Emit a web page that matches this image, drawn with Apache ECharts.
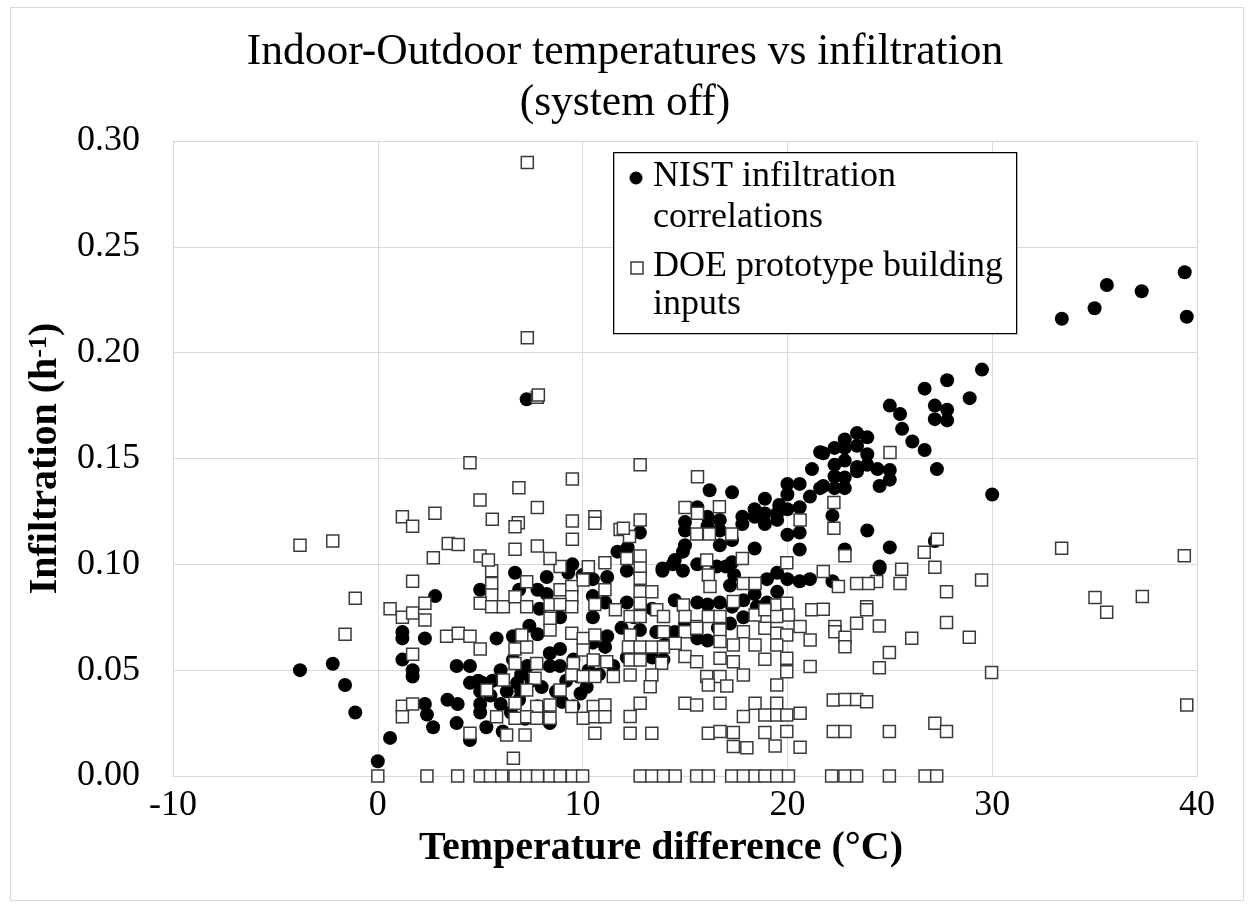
<!DOCTYPE html>
<html>
<head>
<meta charset="utf-8">
<script src="https://cdn.jsdelivr.net/npm/echarts@6/dist/echarts.min.js"></script>
<style>html,body{margin:0;padding:0;background:#fff}#c{width:1250px;height:905px}</style>
</head>
<body>
<div id="c"></div>
<script>
// Text
const chartTitle = 'Indoor-Outdoor temperatures vs infiltration\n(system off)';
const xAxisTitle = 'Temperature difference (°C)';
const seriesNames = ['NIST infiltration correlations', 'DOE prototype building inputs'];
const xTicks = [-10, 0, 10, 20, 30, 40];
const yTicks = [0, 0.05, 0.10, 0.15, 0.20, 0.25, 0.30];

// NIST infiltration correlations [temperature difference, infiltration]
const nistPoints = [
[-3.8,0.050],[-2.2,0.053],[-1.6,0.043],[-1.1,0.030],[0.6,0.018],[0.0,0.007],
[1.2,0.068],[1.2,0.065],[1.2,0.055],[1.7,0.050],[1.7,0.047],
[2.8,0.085],[6.7,0.096],[5.0,0.088],[2.3,0.065],[5.8,0.065],[6.6,0.066],[7.4,0.071],[7.8,0.067],
[3.85,0.052],[4.5,0.052],[4.5,0.044],[5.1,0.044],[5.6,0.045],[3.4,0.036],[3.9,0.034],[2.3,0.034],
[2.4,0.029],[2.7,0.023],[3.85,0.025],[4.5,0.017],[5.0,0.034],[5.0,0.030],[5.3,0.023],[6.1,0.021],
[6.0,0.034],[6.8,0.044],[6.9,0.036],[7.3,0.052],[8.4,0.058],[8.4,0.052],[7.8,0.033],[8.4,0.025],
[8.9,0.052],[9.55,0.055],[9.9,0.039],[9.55,0.033],[10.5,0.063],[11.1,0.061],[11.2,0.094],[10.5,0.093],
[9.5,0.100],[8.25,0.094],[8.25,0.086],[7.8,0.088],[6.9,0.088],[7.9,0.079],[8.9,0.075],[10.5,0.085],
[11.1,0.082],[10.5,0.075],[11.2,0.066],[10.2,0.042],[8.9,0.060],
[5.5,0.038],[6.3,0.040],[7.0,0.040],[7.5,0.045],[8.0,0.042],[8.7,0.040],[9.2,0.045],[9.8,0.047],
[10.3,0.050],[10.8,0.048],[11.5,0.052],[6.5,0.030],[7.2,0.027],[8.0,0.030],[9.0,0.035],[5.0,0.040],
[4.9,0.045],[6.0,0.050],[6.6,0.055],[7.0,0.048],[9.3,0.096],[10.0,0.095],
[12.16,0.097],[12.8,0.096],[13.9,0.097],[14.4,0.100],[14.9,0.097],[15.6,0.100],[17.0,0.099],[17.4,0.095],
[17.2,0.090],[19.0,0.093],[19.5,0.096],[20.0,0.093],[20.6,0.092],[21.1,0.093],[19.5,0.087],[18.4,0.086],
[19.0,0.082],[17.85,0.083],[12.16,0.082],[13.4,0.079],[14.5,0.083],[15.6,0.082],[16.1,0.081],[16.7,0.082],
[17.3,0.080],[17.85,0.075],[17.2,0.072],[12.8,0.069],[13.6,0.068],[14.5,0.068],[15.6,0.065],[16.1,0.064],
[13.4,0.056],[12.16,0.056],[13.95,0.055],[18.5,0.080],[15.0,0.072],[16.6,0.070],[14.0,0.062],[12.5,0.075],
[11.9,0.070],[24.5,0.098],[22.2,0.092],
[16.2,0.135],[17.3,0.134],[21.6,0.153],[21.2,0.145],[21.6,0.136],[20.6,0.138],[20.0,0.138],[21.1,0.132],
[20.0,0.133],[18.9,0.131],[19.6,0.128],[20.6,0.127],[20.0,0.126],[19.5,0.124],[18.4,0.126],[18.4,0.1225],
[17.8,0.1225],[17.8,0.119],[18.9,0.124],[18.9,0.119],[19.5,0.121],[15.6,0.127],[16.1,0.1225],[16.7,0.121],
[15.0,0.120],[15.0,0.116],[16.1,0.118],[16.7,0.116],[17.3,0.1115],[16.7,0.109],[15.0,0.109],[14.9,0.106],
[14.5,0.102],[13.9,0.098],[12.8,0.115],[12.2,0.108],[20.0,0.114],[20.6,0.115],[20.6,0.107],[18.4,0.1075],
[17.3,0.101],[16.55,0.099],[11.7,0.106],[7.27,0.178],
[29.5,0.192],[27.8,0.187],[26.7,0.183],[28.9,0.1785],[27.2,0.175],[27.8,0.173],[27.2,0.1686],[27.8,0.168],
[25.0,0.175],[25.5,0.171],[25.6,0.164],[26.1,0.158],[26.7,0.154],[27.3,0.145],[30.0,0.133],[23.4,0.162],
[23.9,0.160],[22.8,0.159],[22.3,0.155],[21.75,0.1525],[22.8,0.155],[23.4,0.156],[23.9,0.152],[22.8,0.149],
[22.3,0.147],[23.4,0.146],[23.9,0.147],[24.4,0.145],[25.0,0.1446],[25.0,0.140],[24.5,0.137],[23.4,0.144],
[22.3,0.1415],[22.8,0.141],[22.8,0.136],[22.3,0.136],[21.75,0.137],[22.2,0.123],[23.9,0.116],[25.0,0.108],
[27.2,0.111],[22.8,0.107],[24.5,0.099],
[33.4,0.216],[35.0,0.221],[35.6,0.232],[37.3,0.229],[39.4,0.238],[39.5,0.217]
];

// DOE prototype building inputs [temperature difference, infiltration]
const doePoints = [
[0,0],[-1.1,0.084],[-1.6,0.067],[-3.8,0.109],[-2.2,0.111],[1.2,0.1225],[1.7,0.118],[1.7,0.092],
[0.6,0.079],[1.2,0.075],[1.7,0.077],[1.7,0.0575],[1.2,0.033],[1.2,0.028],[1.7,0.034],
[5.56,0.097],[5.56,0.091],[5.56,0.0855],[5.0,0.0816],[5.56,0.080],[6.13,0.080],[6.7,0.0847],[7.27,0.0918],
[7.27,0.080],[8.9,0.099],[8.9,0.088],[9.47,0.0895],[9.47,0.0847],[10.03,0.0926],[11.09,0.088],[8.41,0.081],
[8.9,0.081],[9.47,0.080],[10.6,0.081],[11.6,0.0785],[2.3,0.0816],[2.3,0.0737],[3.36,0.066],[3.93,0.0674],
[4.5,0.066],[5.0,0.060],[6.7,0.060],[7.27,0.061],[7.03,0.0666],[8.41,0.069],[8.41,0.0745],[9.47,0.0674],
[10.03,0.065],[10.6,0.0666],[10.03,0.0595],[6.7,0.0532],[7.76,0.0532],[9.55,0.0532],[10.52,0.0548],[11.18,0.054],
[6.13,0.0454],[7.68,0.0462],[5.32,0.0406],[7.27,0.0406],[8.9,0.0406],[9.47,0.0477],[10.03,0.047],[10.6,0.047],
[11.5,0.047],[6.7,0.0344],[7.76,0.0328],[8.41,0.0336],[9.47,0.0328],[10.52,0.0328],[11.09,0.0336],[5.8,0.028],
[6.7,0.0273],[7.27,0.028],[7.76,0.0273],[8.41,0.0273],[10.03,0.0273],[10.6,0.028],[11.09,0.028],[4.5,0.0202],
[6.29,0.0194],[7.19,0.0194],[10.6,0.0202],[6.62,0.0084],
[2.4,0],[3.9,0],[5.0,0],[5.5,0],[6.05,0],[6.7,0],[7.27,0],[7.8,0],[8.4,0],[8.9,0],[9.5,0],[10.0,0],
[12.81,0.099],[12.81,0.0934],[12.81,0.087],[13.38,0.087],[12.81,0.0816],[12.32,0.0753],[12.81,0.0753],
[13.62,0.0785],[13.95,0.0753],[14.92,0.0808],[15.0,0.0753],[15.57,0.0706],[16.14,0.0753],[16.71,0.0753],
[16.14,0.095],[16.22,0.0895],[17.85,0.091],[18.42,0.091],[17.36,0.0824],[19.48,0.0808],[19.97,0.0816],
[18.42,0.0761],[18.9,0.0785],[20.05,0.0761],[19.48,0.0753],[21.19,0.0785],[13.95,0.0682],[15.0,0.0682],
[15.57,0.0698],[16.71,0.069],[17.85,0.0682],[18.9,0.0698],[19.48,0.0674],[19.97,0.0666],[20.62,0.0706],
[21.11,0.0643],[12.32,0.0666],[12.24,0.061],[12.81,0.061],[13.38,0.061],[13.95,0.061],[14.52,0.0627],
[16.71,0.0635],[17.36,0.0619],[18.42,0.0619],[19.48,0.0619],[12.32,0.0548],[12.81,0.0548],[13.86,0.0533],
[15.0,0.0564],[15.57,0.054],[16.71,0.0556],[17.36,0.054],[18.9,0.0551],[19.97,0.0556],[21.11,0.0517],
[12.32,0.0477],[13.38,0.0477],[13.3,0.0422],[16.06,0.047],[16.71,0.047],[17.85,0.0477],[19.97,0.0493],
[16.14,0.043],[17.04,0.0425],[19.48,0.043],[12.81,0.0344],[15.0,0.0344],[15.57,0.0336],[16.71,0.0344],
[18.42,0.0344],[19.48,0.0344],[12.32,0.0281],[17.85,0.0281],[18.9,0.0288],[19.48,0.0288],[19.97,0.0288],
[20.62,0.0296],[12.32,0.0202],[13.38,0.0202],[16.14,0.0202],[16.71,0.021],[17.36,0.0205],[18.9,0.0205],
[19.97,0.021],[17.36,0.0139],[18.02,0.0134],[19.4,0.0142],[20.62,0.0136],
[12.81,0],[13.38,0],[13.95,0],[14.52,0],[15.57,0],[16.14,0],[17.28,0],[17.85,0],[18.42,0],[18.9,0],[19.48,0],[20.05,0],
[21.75,0.0966],[25.58,0.0977],[27.2,0.0986],[29.48,0.0926],[25.5,0.091],[24.36,0.0919],[23.95,0.091],
[23.38,0.091],[22.49,0.0895],[27.77,0.087],[23.87,0.080],[23.87,0.0785],[21.75,0.0788],[22.32,0.0706],
[22.32,0.0682],[22.81,0.0656],[22.81,0.0611],[23.38,0.0722],[24.49,0.0709],[27.77,0.0725],[28.88,0.0656],
[26.07,0.0651],[24.98,0.0583],[24.49,0.0512],[29.97,0.0489],[22.24,0.0359],[22.81,0.0362],[23.38,0.0362],
[23.87,0.0351],[22.24,0.021],[22.81,0.021],[24.98,0.021],[27.2,0.0249],[27.77,0.021],
[22.16,0],[22.81,0],[23.38,0],[24.98,0],[26.72,0],[27.29,0],
[7.79,0.1789],[4.5,0.148],[9.5,0.1403],[6.89,0.1362],[4.99,0.1304],[7.79,0.1268],[2.79,0.1241],[5.59,0.1213],
[6.86,0.1197],[6.7,0.1178],[9.5,0.1205],[9.5,0.1118],[10.6,0.1225],[10.6,0.1194],[11.83,0.1165],[3.44,0.1099],
[3.93,0.1094],[2.71,0.1031],[6.7,0.1071],[7.79,0.1087],[4.99,0.1039],[5.4,0.102],[8.41,0.1028],[10.28,0.0989],
[11.09,0.1008],
[12.81,0.147],[15.61,0.1414],[15.0,0.1269],[15.61,0.1241],[16.68,0.1272],[12.81,0.1209],[15.57,0.1143],
[16.19,0.1143],[17.28,0.1143],[20.62,0.1209],[12.29,0.1131],[11.99,0.117],[12.16,0.1028],[12.81,0.1039],
[16.06,0.102],[17.8,0.1028],[19.97,0.1008],
[25.01,0.1528],[22.27,0.1292],[22.27,0.117],[27.32,0.1119],[26.68,0.1057],[22.81,0.1041],
[33.39,0.1076],[39.38,0.104],[35.02,0.0843],[35.59,0.0774],[37.33,0.0848],[39.5,0.0336],
[7.30,0.2898],[7.30,0.2071],[7.84,0.18]
];

const SERIF = '"Liberation Serif","Times New Roman",Times,serif';
const chart = echarts.init(document.getElementById('c'), null, {renderer: 'canvas'});
const option = {
  backgroundColor: '#fff',
  animation: false,
  title: {
    text: chartTitle,
    left: 'center',
    top: 22,
    padding: [5, 5, 5, 17],
    textStyle: {fontFamily: SERIF, fontSize: 43.5, fontWeight: 'normal', color: '#000', lineHeight: 51, align: 'center'}
  },
  grid: {left: 173, right: 53, top: 141, bottom: 129, containLabel: false},
  xAxis: {
    type: 'value', min: -10, max: 40, interval: 10,
    name: xAxisTitle, nameLocation: 'middle', nameGap: 52,
    nameTextStyle: {fontFamily: SERIF, fontSize: 40, fontWeight: 'bold', color: '#000', padding: [0, 48, 0, 0]},
    axisLine: {show: true, lineStyle: {color: '#d9d9d9', width: 1}},
    axisTick: {show: false},
    axisLabel: {fontFamily: SERIF, fontSize: 36, color: '#000', margin: 12,
      formatter: v => xTicks.includes(v) ? String(v) : ''},
    splitLine: {show: true, lineStyle: {color: '#d9d9d9', width: 1}}
  },
  yAxis: {
    type: 'value', min: 0, max: 0.3, interval: 0.05,
    name: 'Infiltration (h{sup|-1})', nameLocation: 'middle', nameGap: 105,
    nameTextStyle: {fontFamily: SERIF, fontSize: 40, fontWeight: 'bold', color: '#000',
      rich: {sup: {fontFamily: SERIF, fontSize: 26, fontWeight: 'bold', color: '#000', verticalAlign: 'top', lineHeight: 40}}},
    axisLine: {show: true, lineStyle: {color: '#d9d9d9', width: 1}},
    axisTick: {show: false},
    axisLabel: {fontFamily: SERIF, fontSize: 36, color: '#000', margin: 33,
      formatter: v => v.toFixed(2)},
    splitLine: {show: true, lineStyle: {color: '#d9d9d9', width: 1}}
  },
  series: [
    {name: seriesNames[0], type: 'scatter', data: nistPoints, symbol: 'circle', symbolSize: 14,
     itemStyle: {color: '#000', opacity: 1}},
    {name: seriesNames[1], type: 'scatter', data: doePoints, symbol: 'rect', symbolSize: 12,
     itemStyle: {color: '#fff', borderColor: '#3a3a3a', borderWidth: 1.5, opacity: 1}}
  ],
  graphic: [
    {type: 'rect', left: 8, top: 5, shape: {width: 1233, height: 893},
     style: {fill: null, stroke: '#d9d9d9', lineWidth: 1}, silent: true, z: -1},
    {type: 'rect', left: 613, top: 152, shape: {width: 403, height: 181},
     style: {fill: '#fff', stroke: '#000', lineWidth: 1.3}, z: 100},
    {type: 'circle', shape: {cx: 636, cy: 178, r: 6.5}, style: {fill: '#000'}, z: 101},
    {type: 'rect', shape: {x: 631, y: 262, width: 12, height: 12}, style: {fill: '#fff', stroke: '#3a3a3a', lineWidth: 1.5}, z: 101},
    {type: 'text', left: 653, top: 159, z: 101, style: {text: 'NIST infiltration', font: '36px ' + SERIF, fill: '#000'}},
    {type: 'text', left: 653, top: 200, z: 101, style: {text: 'correlations', font: '36px ' + SERIF, fill: '#000'}},
    {type: 'text', left: 653, top: 249, z: 101, style: {text: 'DOE prototype building', font: '36px ' + SERIF, fill: '#000'}},
    {type: 'text', left: 653, top: 287, z: 101, style: {text: 'inputs', font: '36px ' + SERIF, fill: '#000'}}
  ]
};
chart.setOption(option);
</script>
</body>
</html>
